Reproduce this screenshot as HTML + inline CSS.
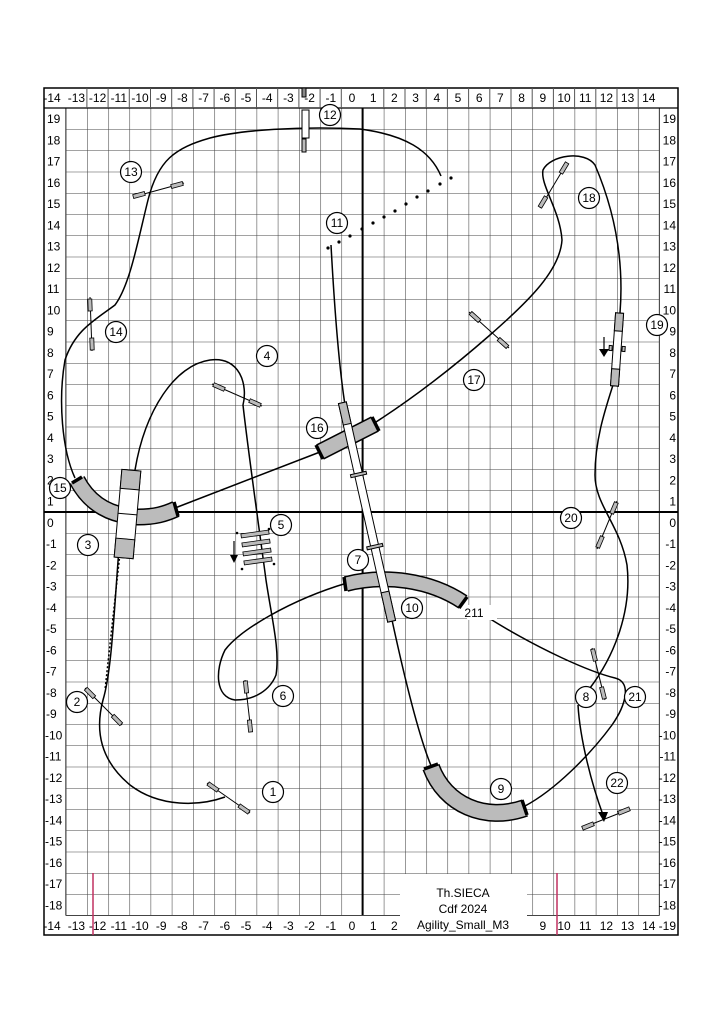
<!DOCTYPE html>
<html><head><meta charset="utf-8"><style>
html,body{margin:0;padding:0;background:#fff;}
svg{display:block;font-family:"Liberation Sans",sans-serif;}
</style></head><body>
<svg width="724" height="1024" viewBox="0 0 724 1024" xmlns="http://www.w3.org/2000/svg">
<defs>
<pattern id="g" x="65.8" y="108" width="21.2" height="21.25" patternUnits="userSpaceOnUse">
<path d="M0 0H21.2M0 0V21.25" stroke="#444" stroke-width="1.1" fill="none"/>
</pattern>
</defs>
<rect width="724" height="1024" fill="#fff"/>
<rect x="65.8" y="108" width="593.6" height="807.5" fill="url(#g)"/>
<path d="M65.8 108V915.5M659.4 108V915.5M65.8 915.5H659.4" stroke="#444" stroke-width="1.1"/>
<rect x="44" y="88" width="634" height="847" fill="none" stroke="#000" stroke-width="1.5"/>
<line x1="44" y1="108" x2="678" y2="108" stroke="#000" stroke-width="1.2"/>
<line x1="362.6" y1="108" x2="362.6" y2="915" stroke="#000" stroke-width="2"/>
<line x1="44" y1="512" x2="678" y2="512" stroke="#000" stroke-width="2"/>
<g stroke="#555" stroke-width="1">
<path d="M86.9 88V108M108.1 88V108M129.3 88V108M150.5 88V108M171.7 88V108M192.9 88V108M214.1 88V108M235.3 88V108M256.5 88V108M277.7 88V108M298.9 88V108M320.1 88V108M341.3 88V108M383.8 88V108M405 88V108M426.2 88V108M447.4 88V108M468.6 88V108M489.8 88V108M511 88V108M532.2 88V108M553.4 88V108M574.6 88V108M595.8 88V108M617 88V108M638.2 88V108"/>
</g>
<g font-size="12" fill="#000" text-anchor="middle">
<text x="52" y="102">-14</text><text x="76.4" y="102">-13</text><text x="97.6" y="102">-12</text><text x="118.8" y="102">-11</text><text x="140" y="102">-10</text><text x="161.2" y="102">-9</text><text x="182.4" y="102">-8</text><text x="203.6" y="102">-7</text><text x="224.8" y="102">-6</text><text x="246" y="102">-5</text><text x="267.2" y="102">-4</text><text x="288.4" y="102">-3</text><text x="309.6" y="102">-2</text><text x="330.8" y="102">-1</text><text x="352" y="102">0</text><text x="373.2" y="102">1</text><text x="394.4" y="102">2</text><text x="415.6" y="102">3</text><text x="436.8" y="102">4</text><text x="458" y="102">5</text><text x="479.2" y="102">6</text><text x="500.4" y="102">7</text><text x="521.6" y="102">8</text><text x="542.8" y="102">9</text><text x="564" y="102">10</text><text x="585.2" y="102">11</text><text x="606.4" y="102">12</text><text x="627.6" y="102">13</text><text x="648.8" y="102">14</text>
<text x="52" y="930">-14</text><text x="76.4" y="930">-13</text><text x="97.6" y="930">-12</text><text x="118.8" y="930">-11</text><text x="140" y="930">-10</text><text x="161.2" y="930">-9</text><text x="182.4" y="930">-8</text><text x="203.6" y="930">-7</text><text x="224.8" y="930">-6</text><text x="246" y="930">-5</text><text x="267.2" y="930">-4</text><text x="288.4" y="930">-3</text><text x="309.6" y="930">-2</text><text x="330.8" y="930">-1</text><text x="352" y="930">0</text><text x="373.2" y="930">1</text><text x="394.4" y="930">2</text><text x="542.8" y="930">9</text><text x="564" y="930">10</text><text x="585.2" y="930">11</text><text x="606.4" y="930">12</text><text x="627.6" y="930">13</text><text x="648.8" y="930">14</text>
</g>
<g font-size="12" fill="#000">
<g text-anchor="start">
<text x="47" y="123">19</text><text x="47" y="144.4">18</text><text x="47" y="165.6">17</text><text x="47" y="186.9">16</text><text x="47" y="208.1">15</text><text x="47" y="229.4">14</text><text x="47" y="250.6">13</text><text x="47" y="271.9">12</text><text x="47" y="293.1">11</text><text x="47" y="314.4">10</text><text x="47" y="335.6">9</text><text x="47" y="356.9">8</text><text x="47" y="378.1">7</text><text x="47" y="399.4">6</text><text x="47" y="420.6">5</text><text x="47" y="441.9">4</text><text x="47" y="463.1">3</text><text x="47" y="484.4">2</text><text x="47" y="505.6">1</text><text x="47" y="526.9">0</text><text x="46" y="548.1">-1</text><text x="46" y="569.4">-2</text><text x="46" y="590.6">-3</text><text x="46" y="611.9">-4</text><text x="46" y="633.1">-5</text><text x="46" y="654.4">-6</text><text x="46" y="675.6">-7</text><text x="46" y="696.9">-8</text><text x="46" y="718.1">-9</text><text x="45" y="739.4">-10</text><text x="45" y="760.6">-11</text><text x="45" y="781.9">-12</text><text x="45" y="803.1">-13</text><text x="45" y="824.4">-14</text><text x="45" y="845.6">-15</text><text x="45" y="866.9">-16</text><text x="45" y="888.1">-17</text><text x="45" y="909.4">-18</text>
</g>
<g text-anchor="end">
<text x="676" y="123">19</text><text x="676" y="144.4">18</text><text x="676" y="165.6">17</text><text x="676" y="186.9">16</text><text x="676" y="208.1">15</text><text x="676" y="229.4">14</text><text x="676" y="250.6">13</text><text x="676" y="271.9">12</text><text x="676" y="293.1">11</text><text x="676" y="314.4">10</text><text x="676" y="335.6">9</text><text x="676" y="356.9">8</text><text x="676" y="378.1">7</text><text x="676" y="399.4">6</text><text x="676" y="420.6">5</text><text x="676" y="441.9">4</text><text x="676" y="463.1">3</text><text x="676" y="484.4">2</text><text x="676" y="505.6">1</text><text x="676" y="526.9">0</text><text x="676" y="548.1">-1</text><text x="676" y="569.4">-2</text><text x="676" y="590.6">-3</text><text x="676" y="611.9">-4</text><text x="676" y="633.1">-5</text><text x="676" y="654.4">-6</text><text x="676" y="675.6">-7</text><text x="676" y="696.9">-8</text><text x="676" y="718.1">-9</text><text x="676" y="739.4">-10</text><text x="676" y="760.6">-11</text><text x="676" y="781.9">-12</text><text x="676" y="803.1">-13</text><text x="676" y="824.4">-14</text><text x="676" y="845.6">-15</text><text x="676" y="866.9">-16</text><text x="676" y="888.1">-17</text><text x="676" y="909.4">-18</text><text x="676" y="930">-19</text>
</g>
</g>
<line x1="93" y1="873" x2="93" y2="935" stroke="#c03060" stroke-width="1.5"/>
<line x1="557" y1="873" x2="557" y2="935" stroke="#c03060" stroke-width="1.5"/>
<rect x="400" y="874" width="127" height="60" fill="#fff"/>
<g font-size="12" text-anchor="middle" fill="#000">
<text x="463" y="897">Th.SIECA</text><text x="463" y="913">Cdf 2024</text><text x="463" y="929">Agility_Small_M3</text>
</g>

<g fill="none" stroke="#000" stroke-width="1.5">
<path d="M225 797 C200 806 160 808 130 785 C100 760 95 730 103 700 C112 670 114 610 120 535"/>
<path d="M122 535 L105 690" stroke-dasharray="2 2"/>
<path d="M135 470 C145 410 175 365 210 360 C240 356 248 385 243 405 C248 450 258 520 266 580 C272 620 280 650 276 675 C270 690 255 700 235 700 C215 697 215 670 225 650 C240 630 290 600 347 583"/>
<path d="M331 245 C334 300 338 360 345 405"/>
<path d="M392 620 C405 680 420 740 432 768"/>
<path d="M487 617 C540 650 590 672 615 678 C632 682 626 705 612 725 C590 755 555 790 525 806"/>
<path d="M590 688 C615 655 632 610 627 565 C620 525 595 505 595 475 C595 440 605 410 613 385"/>
<path d="M578 705 C580 740 592 785 603 815"/>
<path d="M620 313 C625 250 610 200 595 165 C585 150 550 155 543 170 C540 185 560 210 562 240 C560 270 530 300 490 335 C450 370 410 400 376 422"/>
<path d="M320 452 L175 508"/>
<path d="M75 478 C62 450 58 400 65 360 C75 330 95 320 115 305 C130 285 138 240 148 200 C158 160 175 148 210 138 C240 130 300 126 360 129 C405 135 430 150 441 176"/>
</g>
<polygon points="598,812 608,812 604,822" fill="#000"/>
<g fill="#000">
<circle cx="328" cy="248" r="1.6"/><circle cx="339" cy="242" r="1.6"/><circle cx="350" cy="236" r="1.6"/><circle cx="362" cy="229" r="1.6"/><circle cx="373" cy="223" r="1.6"/><circle cx="384" cy="217" r="1.6"/><circle cx="395" cy="211" r="1.6"/><circle cx="406" cy="204" r="1.6"/><circle cx="417" cy="197" r="1.6"/><circle cx="428" cy="191" r="1.6"/><circle cx="440" cy="184" r="1.6"/><circle cx="451" cy="178" r="1.6"/>
</g>
<g fill="none" stroke-linecap="butt">
<path d="M77 480 C90 505 112 516 138 517 C155 517 165 514 176 509" stroke="#000" stroke-width="17"/>
<path d="M77 480 C90 505 112 516 138 517 C155 517 165 514 176 509" stroke="#bbb" stroke-width="14"/>
<path d="M320 452 L375 424" stroke="#000" stroke-width="17"/>
<path d="M320 452 L375 424" stroke="#bbb" stroke-width="14"/>
<path d="M346 584 C385 574 430 580 463 602" stroke="#000" stroke-width="16"/>
<path d="M346 584 C385 574 430 580 463 602" stroke="#bbb" stroke-width="13"/>
<path d="M431 767 C445 805 485 822 525 808" stroke="#000" stroke-width="18"/>
<path d="M431 767 C445 805 485 822 525 808" stroke="#bbb" stroke-width="15"/>
</g>
<g stroke="#000" stroke-width="3.5">
<line x1="72" y1="483" x2="82" y2="477"/><line x1="174" y1="502" x2="178" y2="516"/>
<line x1="316" y1="445" x2="323" y2="459"/><line x1="372" y1="417" x2="379" y2="431"/>
<line x1="344" y1="577" x2="346" y2="591"/><line x1="467" y1="597" x2="459" y2="608"/>
<line x1="424" y1="769" x2="438" y2="764"/><line x1="522" y1="800" x2="527" y2="815"/>
</g>
<g transform="rotate(5 127 514)" stroke="#000" stroke-width="1">
<rect x="118" y="470" width="19" height="88" fill="#fff"/>
<rect x="118" y="470" width="19" height="19" fill="#bbb"/>
<rect x="118" y="539" width="19" height="19" fill="#bbb"/>
<line x1="118" y1="514" x2="137" y2="514"/>
</g>
<g transform="rotate(-12.7 367 512)" stroke="#000" stroke-width="1">
<rect x="363" y="400" width="8" height="224" fill="#fff"/>
<rect x="363" y="400" width="8" height="22" fill="#bbb"/>
<rect x="363" y="594" width="8" height="30" fill="#bbb"/>
<rect x="359" y="472" width="16" height="3" fill="#bbb"/>
<rect x="359" y="546" width="16" height="3" fill="#bbb"/>
</g>
<g transform="rotate(4 617 350)" stroke="#000" stroke-width="1">
<rect x="613" y="313" width="8" height="73" fill="#fff"/>
<rect x="613" y="313" width="8" height="18" fill="#bbb"/>
<rect x="613" y="369" width="8" height="17" fill="#bbb"/>
<rect x="609" y="346" width="3" height="5" fill="#bbb"/><rect x="622" y="346" width="3" height="5" fill="#bbb"/>
</g>
<line x1="604" y1="337" x2="604" y2="350" stroke="#000" stroke-width="1.2"/>
<polygon points="599,349 609,349 604,357" fill="#000"/>
<g stroke="#000" stroke-width="1">
<rect x="302" y="88" width="4" height="9" fill="#888"/>
<rect x="302" y="110" width="7" height="28" fill="#fff"/>
<rect x="302" y="139" width="4" height="13" fill="#bbb"/>
</g>
<g stroke="#000" stroke-width="1">
<line x1="133" y1="197" x2="184" y2="183"/>
<line x1="90" y1="297" x2="92" y2="351"/>
<line x1="212" y1="384" x2="262" y2="406"/>
<line x1="469" y1="312" x2="509" y2="348"/>
<line x1="540" y1="208" x2="567" y2="163"/>
<line x1="597" y1="549" x2="617" y2="501"/>
<line x1="592" y1="648" x2="605" y2="700"/>
<line x1="582" y1="828" x2="630" y2="809"/>
<line x1="245" y1="680" x2="251" y2="732"/>
<line x1="207" y1="783" x2="250" y2="813"/>
<line x1="85" y1="688" x2="122" y2="725"/>
</g>
<g fill="#bbb" stroke="#000" stroke-width="0.8">
<rect x="-6" y="-2" width="12" height="4" transform="translate(139 195) rotate(-15)"/>
<rect x="-6" y="-2" width="12" height="4" transform="translate(177 185) rotate(-15)"/>
<rect x="-2" y="-6" width="4" height="12" transform="translate(90 305) rotate(-2)"/>
<rect x="-2" y="-6" width="4" height="12" transform="translate(92 344) rotate(-2)"/>
<rect x="-6" y="-2" width="12" height="4" transform="translate(219 387) rotate(24)"/>
<rect x="-6" y="-2" width="12" height="4" transform="translate(255 403) rotate(24)"/>
<rect x="-6" y="-2" width="12" height="4" transform="translate(475 317) rotate(42)"/>
<rect x="-6" y="-2" width="12" height="4" transform="translate(503 343) rotate(42)"/>
<rect x="-6" y="-2" width="12" height="4" transform="translate(543 202) rotate(-59)"/>
<rect x="-6" y="-2" width="12" height="4" transform="translate(564 168) rotate(-59)"/>
<rect x="-6" y="-2" width="12" height="4" transform="translate(600 542) rotate(-67)"/>
<rect x="-6" y="-2" width="12" height="4" transform="translate(614 508) rotate(-67)"/>
<rect x="-6" y="-2" width="12" height="4" transform="translate(594 655) rotate(76)"/>
<rect x="-6" y="-2" width="12" height="4" transform="translate(603 693) rotate(76)"/>
<rect x="-6" y="-2" width="12" height="4" transform="translate(588 826) rotate(-22)"/>
<rect x="-6" y="-2" width="12" height="4" transform="translate(624 811) rotate(-22)"/>
<rect x="-2" y="-6" width="4" height="12" transform="translate(246 687) rotate(-6)"/>
<rect x="-2" y="-6" width="4" height="12" transform="translate(250 726) rotate(-6)"/>
<rect x="-6" y="-2" width="12" height="4" transform="translate(213 787) rotate(35)"/>
<rect x="-6" y="-2" width="12" height="4" transform="translate(244 809) rotate(35)"/>
<rect x="-6" y="-2" width="12" height="4" transform="translate(90 693) rotate(45)"/>
<rect x="-6" y="-2" width="12" height="4" transform="translate(117 720) rotate(45)"/>
</g>
<g fill="#bbb" stroke="#000" stroke-width="0.8">
<rect x="241" y="532" width="28" height="4" transform="rotate(-8 255 534)"/>
<rect x="242" y="541" width="28" height="4" transform="rotate(-8 256 543)"/>
<rect x="243" y="550" width="28" height="4" transform="rotate(-8 257 552)"/>
<rect x="244" y="559" width="28" height="4" transform="rotate(-8 258 561)"/>
</g>
<g fill="#000"><circle cx="237" cy="533" r="1.3"/><circle cx="269" cy="529" r="1.3"/><circle cx="242" cy="569" r="1.3"/><circle cx="274" cy="564" r="1.3"/></g>
<line x1="234" y1="541" x2="234" y2="556" stroke="#000" stroke-width="1.2"/>
<polygon points="230,555 238,555 234,563" fill="#000"/>
<g font-size="12" text-anchor="middle" fill="#000">
<g fill="#fff" stroke="#000" stroke-width="1.2">
<circle cx="330" cy="115" r="10.5"/><circle cx="131" cy="172" r="10.5"/><circle cx="337" cy="223" r="10.5"/><circle cx="116" cy="332" r="10.5"/><circle cx="267" cy="356" r="10.5"/><circle cx="317" cy="428" r="10.5"/><circle cx="60" cy="488" r="10.5"/><circle cx="88" cy="545" r="10.5"/><circle cx="281" cy="525" r="10.5"/><circle cx="358" cy="560" r="10.5"/><circle cx="412" cy="608" r="10.5"/><circle cx="283" cy="696" r="10.5"/><circle cx="77" cy="702" r="10.5"/><circle cx="273" cy="792" r="10.5"/><circle cx="501" cy="789" r="10.5"/><circle cx="589" cy="198" r="10.5"/><circle cx="657" cy="325" r="10.5"/><circle cx="474" cy="380" r="10.5"/><circle cx="571" cy="518" r="10.5"/><circle cx="586" cy="697" r="10.5"/><circle cx="635" cy="697" r="10.5"/><circle cx="617" cy="783" r="10.5"/>
</g>
<text x="330" y="119">12</text><text x="131" y="176">13</text><text x="337" y="227">11</text><text x="116" y="336">14</text><text x="267" y="360">4</text><text x="317" y="432">16</text><text x="60" y="492">15</text><text x="88" y="549">3</text><text x="281" y="529">5</text><text x="358" y="564">7</text><text x="412" y="612">10</text><text x="283" y="700">6</text><text x="77" y="706">2</text><text x="273" y="796">1</text><text x="501" y="793">9</text><text x="589" y="202">18</text><text x="657" y="329">19</text><text x="474" y="384">17</text><text x="571" y="522">20</text><text x="586" y="701">8</text><text x="635" y="701">21</text><text x="617" y="787">22</text>
<rect x="467" y="605" width="30" height="15" fill="#fff"/>
<text x="474" y="617">211</text>
</g>
</svg>
</body></html>
